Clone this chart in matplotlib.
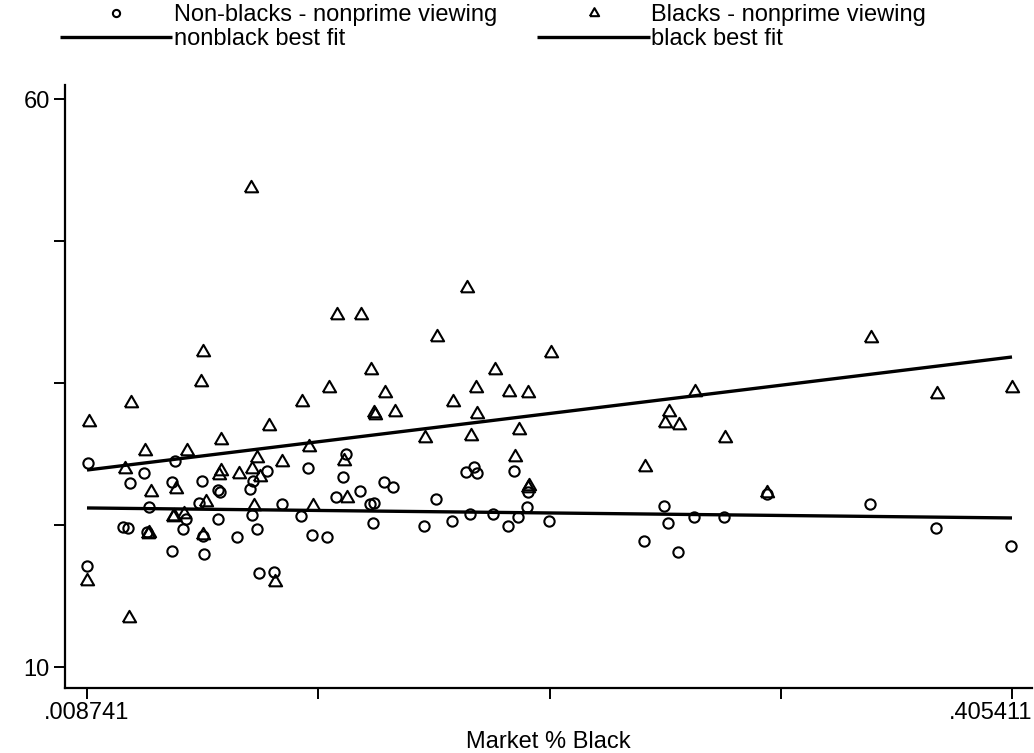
import numpy as np
import matplotlib
matplotlib.use("Agg")
import matplotlib.pyplot as plt
import matplotlib.transforms as mtransforms

plt.rcParams["font.family"] = ["Liberation Sans", "DejaVu Sans"]

# ── data ───────────────────────────────────────────────────────────────────
X_MIN, X_MAX = 0.008741, 0.405411

# Blacks - nonprime viewing
black_x = [0.0096, 0.0276, 0.0791, 0.0585, 0.0576, 0.0336, 0.0516, 0.0250,
           0.0662, 0.0868, 0.1159, 0.1262, 0.1305, 0.1365, 0.1125, 0.1009,
           0.1322, 0.1318, 0.1408, 0.1717, 0.1588, 0.1657, 0.1756, 0.1837,
           0.1897, 0.1979, 0.2077, 0.1760, 0.1734, 0.1940, 0.1537, 0.1923,
           0.1979, 0.1983, 0.1190, 0.1039, 0.0924, 0.0816, 0.0795, 0.0829,
           0.0739, 0.0662, 0.0653, 0.0469, 0.0362, 0.0598, 0.0456, 0.0460,
           0.0503, 0.0349, 0.0352, 0.0585, 0.0804, 0.1057, 0.1202, 0.0087,
           0.0268, 0.0894, 0.2480, 0.2583, 0.2566, 0.2626, 0.2695, 0.2823,
           0.3004, 0.3450, 0.3732, 0.4054]
black_y = [31.57, 33.24, 52.17, 37.73, 35.09, 29.01, 29.01, 27.43,
           29.98, 31.21, 40.99, 40.99, 36.14, 34.12, 34.56, 33.33,
           32.18, 32.36, 32.45, 43.36, 39.05, 33.33, 34.56, 36.14,
           34.21, 34.12, 37.64, 32.27, 30.33, 30.86, 30.16, 28.49,
           25.76, 25.90, 28.13, 29.37, 28.05, 28.40, 27.43, 26.73,
           26.99, 27.25, 26.90, 25.67, 25.40, 24.52, 23.20, 23.30,
           23.47, 21.71, 21.80, 21.62, 24.17, 24.17, 24.88, 17.57,
           14.31, 17.48, 27.61, 32.45, 31.48, 31.30, 34.21, 30.16,
           25.32, 38.96, 34.03, 34.56]

# Non-blacks - nonprime viewing
nonblack_x = [0.0092, 0.0087, 0.0332, 0.0272, 0.0465, 0.0452, 0.0581, 0.0657,
              0.0649, 0.0568, 0.0353, 0.0649, 0.0512, 0.0499, 0.0242, 0.0263,
              0.0345, 0.0585, 0.0731, 0.0452, 0.0589, 0.0859, 0.1035, 0.1198,
              0.1185, 0.0799, 0.0786, 0.0924, 0.1155, 0.1258, 0.1361, 0.1400,
              0.1301, 0.1318, 0.0795, 0.1005, 0.0816, 0.1052, 0.1117, 0.1314,
              0.0825, 0.0889, 0.1747, 0.1713, 0.1760, 0.1919, 0.1584, 0.1979,
              0.1974, 0.1730, 0.1828, 0.1936, 0.1653, 0.1532, 0.1893, 0.2069,
              0.2562, 0.3445, 0.2579, 0.2690, 0.2819, 0.3728, 0.2476, 0.2622,
              0.4050, 0.3004]
nonblack_y = [27.96, 18.89, 27.08, 26.20, 28.13, 26.29, 26.37, 25.40,
              25.58, 24.44, 24.08, 23.03, 23.03, 22.15, 22.32, 22.24,
              21.88, 21.53, 21.44, 20.21, 19.95, 27.25, 27.52, 28.75,
              26.73, 26.37, 25.67, 24.35, 24.96, 25.49, 26.29, 25.85,
              24.35, 24.44, 23.38, 23.29, 22.15, 21.62, 21.44, 22.68,
              18.27, 18.36, 27.61, 27.17, 27.08, 27.25, 24.79, 25.40,
              24.08, 23.47, 23.47, 23.20, 22.85, 22.41, 22.41, 22.85,
              24.17, 24.35, 22.68, 23.20, 23.20, 22.24, 21.09, 20.12,
              20.65, 25.23]

# best-fit lines, values at X_MIN and X_MAX
fit_x = [X_MIN, X_MAX]
nonblack_fit = [24.00, 23.12]
black_fit = [27.34, 37.29]

x_ticks = np.linspace(X_MIN, X_MAX, 5)
x_ticklabels = [".008741", "", "", "", ".405411"]
y_ticks = np.linspace(10, 60, 5)
y_ticklabels = ["10", "", "", "", "60"]

FS = 17

# ── figure ─────────────────────────────────────────────────────────────────
W, H = 1034, 753
fig = plt.figure(figsize=(W / 100, H / 100), dpi=100, facecolor="white")
ax = fig.add_axes([65 / W, 1 - 688 / H, (1032 - 65) / W, (688 - 85) / H])

# triangle shaped like Stata's (wider than tall)
tri = [(-0.866, -0.5), (0.866, -0.5), (0.0, 1.0), (-0.866, -0.5)]

h_nb, = ax.plot(nonblack_x, nonblack_y, linestyle="none", marker="o",
                markersize=7.4, markerfacecolor="none", markeredgecolor="black",
                markeredgewidth=1.5, label="Non-blacks - nonprime viewing")
h_b, = ax.plot(black_x, black_y, linestyle="none", marker=tri,
               markersize=11, markerfacecolor="none", markeredgecolor="black",
               markeredgewidth=1.5, label="Blacks - nonprime viewing")
h_nbf, = ax.plot(fit_x, nonblack_fit, color="black", linewidth=2.4,
                 solid_capstyle="butt", label="nonblack best fit")
h_bf, = ax.plot(fit_x, black_fit, color="black", linewidth=2.4,
                solid_capstyle="butt", label="black best fit")

# ── axes ───────────────────────────────────────────────────────────────────
dx = (X_MAX - X_MIN) / 925
ax.set_xlim(X_MIN - 22 * dx, X_MIN + 945 * dx)
dy = 50 / 568
ax.set_ylim(10 - 21 * dy, 60 + 14 * dy)

for s in ["top", "right"]:
    ax.spines[s].set_visible(False)
for s in ["left", "bottom"]:
    ax.spines[s].set_linewidth(1.6)

ax.set_xticks(x_ticks)
ax.set_xticklabels(x_ticklabels)
ax.set_yticks(y_ticks)
ax.set_yticklabels(y_ticklabels)
ax.tick_params(axis="both", direction="out", length=8, width=1.4,
               labelsize=FS, colors="black")
ax.tick_params(axis="y", pad=3)
ax.tick_params(axis="x", pad=2)

# last x label sits left of its tick, as in the original
last = ax.get_xticklabels()[-1]
last.set_horizontalalignment("right")
last.set_transform(last.get_transform() +
                   mtransforms.ScaledTranslation(20 / 100, 0, fig.dpi_scale_trans))

ax.set_xlabel("Market % Black", fontsize=FS, labelpad=5)

# ── legend ─────────────────────────────────────────────────────────────────
fig.legend(handles=[h_nb, h_nbf, h_b, h_bf], ncol=2, frameon=False,
           loc="upper left", bbox_to_anchor=(60 / W, 1 - 4 / H),
           fontsize=FS, handlelength=4.75, handletextpad=0.08,
           columnspacing=1.7, labelspacing=0.08, borderpad=0,
           borderaxespad=0, markerscale=0.7)

fig.savefig("out.png", dpi=100, facecolor="white")
